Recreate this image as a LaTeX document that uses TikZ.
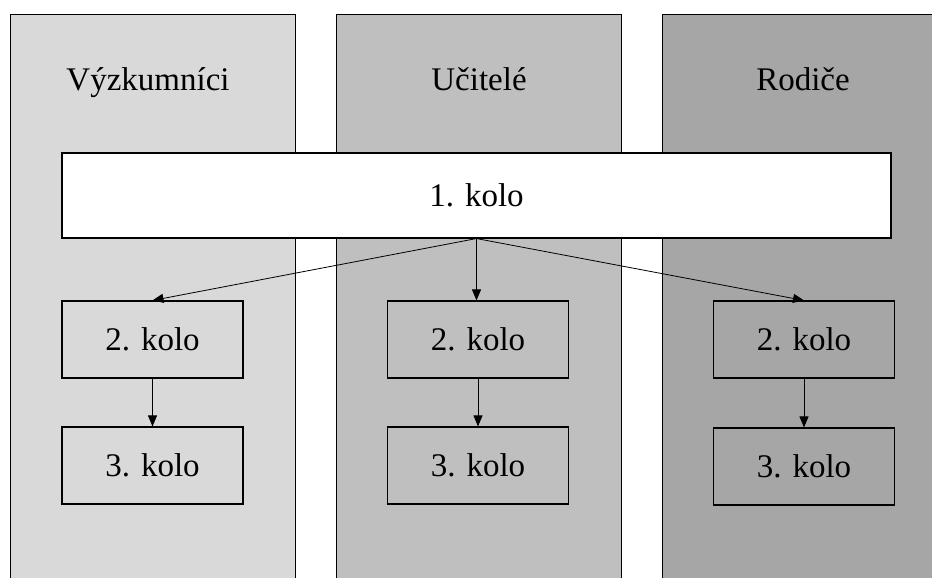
\documentclass[tikz,border=0pt]{standalone}
\usepackage{fontspec}
\setmainfont{Liberation Serif}
\usetikzlibrary{arrows.meta}
\definecolor{colA}{HTML}{D9D9D9}
\definecolor{colB}{HTML}{BFBFBF}
\definecolor{colC}{HTML}{A6A6A6}
\begin{document}
\begin{tikzpicture}[x=1pt,y=-1pt,
  colbox/.style={draw=black,line width=1.1pt,anchor=north west,minimum width=285pt,minimum height=620pt,inner sep=0pt},
  kolobox/.style={draw=black,line width=1.1pt,minimum width=181pt,minimum height=77pt,inner sep=0pt,font=\fontsize{33}{40}\selectfont},
  headtxt/.style={anchor=base,inner sep=0pt,font=\fontsize{33}{40}\selectfont},
  arr/.style={-{Triangle[length=11pt,width=9pt]},line width=0.8pt,draw=black}]
\useasboundingbox (0,0) rectangle (932,578);
\clip (0,0) rectangle (932,578);
\fill[white] (0,0) rectangle (932,578);
% columns
\node[colbox,fill=colA] (c1) at (10,14) {};
\node[colbox,fill=colB] (c2) at (336,14) {};
\node[colbox,fill=colC] (c3) at (662,14) {};
% headers
\node[headtxt] (h1) at (148,91) {Výzkumníci};
\node[headtxt] (h2) at (479,91) {Učitelé};
\node[headtxt] (h3) at (803,91) {Rodiče};
% round 1
\node[kolobox,fill=white,minimum width=829pt,minimum height=85pt] (k1) at (476.5,195.5) {1. kolo};
% round 2
\node[kolobox,fill=colA] (a2) at (152.5,339.5) {2. kolo};
\node[kolobox,fill=colB] (b2) at (478,339.5) {2. kolo};
\node[kolobox,fill=colC] (d2) at (804,339.5) {2. kolo};
% round 3
\node[kolobox,fill=colA] (a3) at (152.5,465.5) {3. kolo};
\node[kolobox,fill=colB] (b3) at (478,465.5) {3. kolo};
\node[kolobox,fill=colC] (d3) at (804,466.5) {3. kolo};
% arrows
\draw[arr] (k1.south) -- (a2.north);
\draw[arr] (k1.south) -- (k1.south |- b2.north);
\draw[arr] (k1.south) -- (d2.north);
\draw[arr] (a2.south) -- (a3.north);
\draw[arr] (b2.south) -- (b3.north);
\draw[arr] (d2.south) -- (d3.north);
\end{tikzpicture}
\end{document}
